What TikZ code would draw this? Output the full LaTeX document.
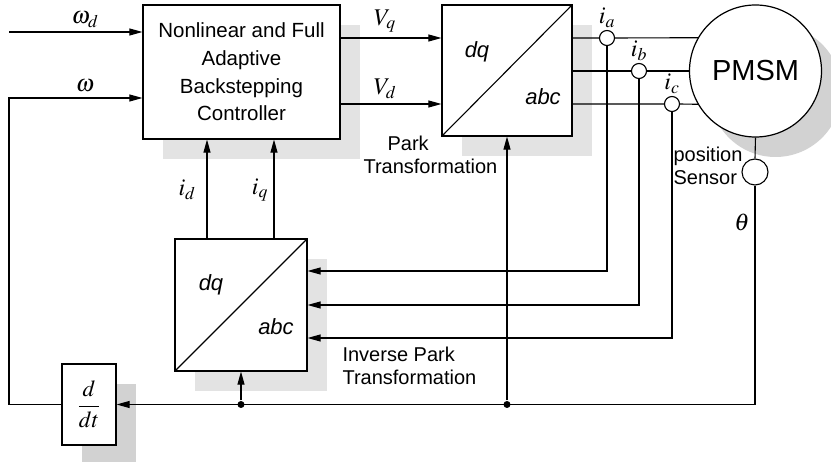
\documentclass[tikz,border=0pt]{standalone}
\usepackage{mathptmx}
\usepackage{fontspec}
\setmainfont{Liberation Sans}
\usetikzlibrary{arrows.meta, positioning, calc, shadows}

\begin{document}
\begin{tikzpicture}[x=1pt, y=-1pt, line width=1.1pt,
  every node/.style={font=\fontsize{20}{23}\selectfont},
  mlbl/.style={font=\fontsize{24}{26}\selectfont, inner sep=1pt},
  block/.style={draw, fill=white, line width=1.2pt, general shadow={fill=gray!22, shadow xshift=20pt, shadow yshift=-20pt}},
  arr/.style={-{Triangle[length=13pt, width=7pt]}},
  sensor/.style={circle, draw, fill=white, minimum size=15pt, inner sep=0pt},
  dot/.style={circle, fill, inner sep=0pt, minimum size=7pt}]
  \useasboundingbox (0,0) rectangle (831,462);

  % blocks
  \node[block, minimum width=197pt, minimum height=134pt, align=center, font=\fontsize{20.5}{27.6}\selectfont] (ctrl) at (241.5,72) {Nonlinear and Full\\Adaptive\\Backstepping\\Controller};
  \node[block, minimum width=130pt, minimum height=131pt] (park) at (507,70.5) {};
  \draw (park.south west) -- (park.north east);
  \node[font=\fontsize{22}{23}\selectfont\itshape] (parkdq) at (477,52) {dq};
  \node[font=\fontsize{22}{23}\selectfont\itshape] (parkabc) at (543,97) {abc};
  \node[block, minimum size=132pt] (invpark) at (241,305) {};
  \draw (invpark.south west) -- (invpark.north east);
  \node[font=\fontsize{22}{23}\selectfont\itshape] (invdq) at (211,285) {dq};
  \node[font=\fontsize{22}{23}\selectfont\itshape] (invabc) at (276,327) {abc};
  \node[block, minimum width=54pt, minimum height=81pt, font=\fontsize{23}{26}\selectfont, general shadow={fill=gray!35, shadow xshift=20pt, shadow yshift=-20pt}] (ddt) at (89,404.5) {$\displaystyle\frac{d}{dt}$};
  \node[circle, draw, fill=white, line width=1.2pt, minimum size=132pt, inner sep=0pt, general shadow={fill=gray!35, shadow xshift=20pt, shadow yshift=-20pt}, font=\fontsize{29}{30}\selectfont] (pmsm) at (755.5,71) {PMSM};
  \node[sensor, minimum size=26pt] (possens) at (755,172) {};
  \node[sensor] (ia) at (607,38) {};
  \node[sensor] (ib) at (639,71) {};
  \node[sensor] (ic) at (672,104) {};

  % inputs and feedback
  \coordinate (wdin) at (9,32);
  \coordinate (fbl) at (9,98);
  \draw[arr] (wdin) -- (wdin -| ctrl.west);
  \draw[arr] (ddt.west) -| (fbl) -- (fbl -| ctrl.west);
  \node[mlbl, anchor=south] (wdlbl) at (85,29) {$\omega_d$};
  \node[mlbl, anchor=south] (wlbl) at (85,93) {$\omega$};

  % controller to park
  \draw[arr] (ctrl.east |- ia) -- (park.west |- ia);
  \draw[arr] (ctrl.east |- ic) -- (park.west |- ic);
  \node[mlbl, anchor=south] (vqlbl) at (385,34) {$V_q$};
  \node[mlbl, anchor=south] (vdlbl) at (385,100) {$V_d$};

  % park to motor
  \draw (park.east |- ia) -- (ia.west) (ia.east) -- (pmsm.150);
  \draw (park.east |- ib) -- (ib.west) (ib.east) -- (pmsm.west);
  \draw (park.east |- ic) -- (ic.west) (ic.east) -- (pmsm.210);
  \node[mlbl, anchor=south] (ialbl) at (607,29) {$i_a$};
  \node[mlbl, anchor=south] (iblbl) at (639,62) {$i_b$};
  \node[mlbl, anchor=south] (iclbl) at (672,95) {$i_c$};

  % measured currents
  \draw[arr] (ia.south) |- ($(invpark.east)+(0,-34)$);
  \draw[arr] (ib.south) |- (invpark.east);
  \draw[arr] (ic.south) |- ($(invpark.east)+(0,33)$);
  \draw[arr] ($(invpark.north)+(-34,0)$) coordinate (idbot) -- (idbot |- ctrl.south);
  \draw[arr] ($(invpark.north)+(33,0)$) coordinate (iqbot) -- (iqbot |- ctrl.south);
  \node[mlbl] (idlbl) at (187,190) {$i_d$};
  \node[mlbl] (iqlbl) at (260,190) {$i_q$};

  % position
  \draw (pmsm.south) -- (possens.north);
  \draw[arr] (possens.south) -- (possens |- ddt) -- (ddt.east);
  \node[dot] (dot1) at (invpark |- ddt) {};
  \node[dot] (dot2) at (park |- ddt) {};
  \draw[arr] (dot1) -- (invpark.south);
  \draw[arr] (dot2) -- (park.south);
  \node[mlbl] (thlbl) at (742,222) {$\theta$};

  % labels
  \node[anchor=west, align=left, inner sep=0pt] (parklbl) at (363,155) {\hspace*{24pt}Park\\Transformation};
  \node[anchor=west, align=left, inner sep=0pt] (invlbl) at (342,366) {Inverse Park\\Transformation};
  \node[anchor=west, align=left, inner sep=0pt] (poslbl) at (673,166) {position\\Sensor};
\end{tikzpicture}
\end{document}
